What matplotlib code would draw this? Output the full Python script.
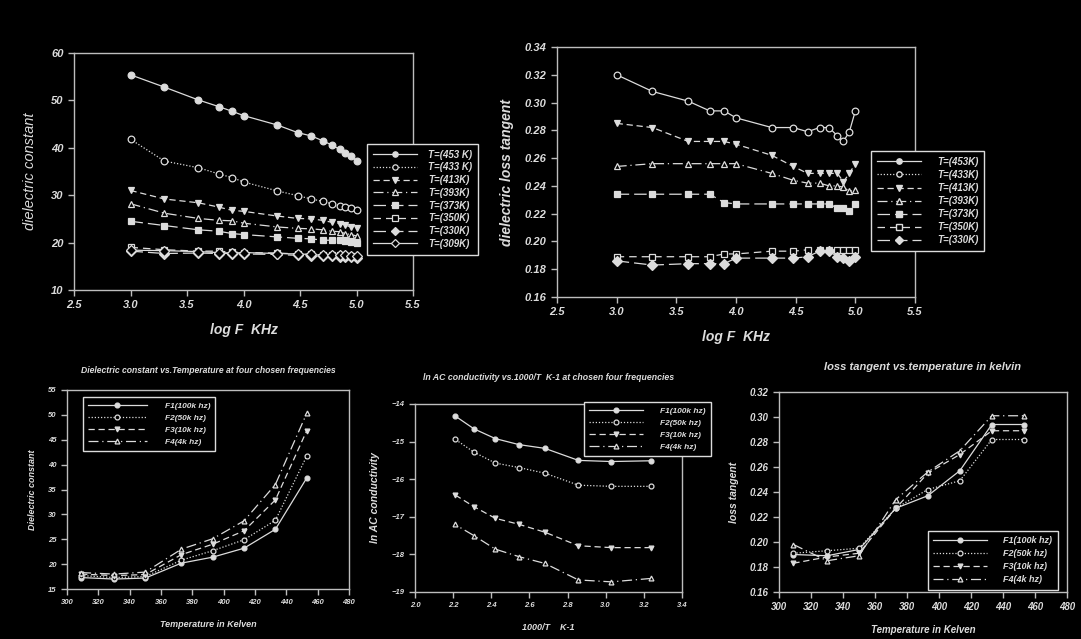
import numpy as np
import matplotlib
matplotlib.use("Agg")
import matplotlib.pyplot as plt
from matplotlib.lines import Line2D

# ---- 数据 ----
# 上方两图: log F (F 单位 Hz)
log_f = [3.0, 3.30, 3.60, 3.78, 3.90, 4.0, 4.30, 4.48, 4.60, 4.70, 4.78, 4.85, 4.90, 4.95, 5.0]

# 介电常数 vs log F
eps_453 = [55.4, 52.8, 50.1, 48.7, 47.7, 46.8, 44.8, 43.2, 42.5, 41.5, 40.6, 39.7, 39.0, 38.2, 37.3]
eps_433 = [41.8, 37.2, 35.8, 34.5, 33.7, 32.8, 30.9, 29.9, 29.2, 28.7, 28.2, 27.8, 27.5, 27.2, 26.9]
eps_413 = [31.0, 29.2, 28.4, 27.5, 26.8, 26.6, 25.6, 25.1, 25.0, 24.7, 24.3, 24.0, 23.7, 23.3, 23.0]
eps_393 = [28.2, 26.2, 25.1, 24.7, 24.6, 24.1, 23.3, 23.0, 22.9, 22.7, 22.4, 22.3, 21.9, 21.7, 21.4]
eps_373 = [24.5, 23.6, 22.7, 22.4, 21.9, 21.7, 21.2, 20.9, 20.8, 20.5, 20.5, 20.5, 20.3, 20.2, 20.0]
eps_350 = [19.0, 18.5, 18.2, 18.2, 18.0, 17.9, 17.8, 17.6, 17.5, 17.4, 17.4, 17.3, 17.2, 17.1, 17.0]
eps_330 = [18.2, 17.7, 17.8, 17.7, 17.7, 17.6, 17.5, 17.3, 17.2, 17.1, 17.1, 17.0, 16.9, 16.9, 16.8]
eps_309 = [18.4, 18.3, 18.1, 17.9, 17.8, 17.9, 17.7, 17.6, 17.5, 17.3, 17.3, 17.3, 17.3, 17.2, 17.1]
eps_series = [eps_453, eps_433, eps_413, eps_393, eps_373, eps_350, eps_330, eps_309]
eps_labels = ["T=(453 K)", "T=(433 K)", "T=(413K)", "T=(393K)", "T=(373K)",
              "T=(350K)", "T=(330K)", "T=(309K)"]

# 损耗角正切 vs log F
tan_453 = [0.320, 0.308, 0.301, 0.294, 0.294, 0.289, 0.282, 0.282, 0.279, 0.282, 0.282, 0.276, 0.272, 0.279, 0.294]
tan_413 = [0.285, 0.282, 0.272, 0.272, 0.272, 0.270, 0.262, 0.254, 0.249, 0.249, 0.249, 0.249, 0.243, 0.249, 0.256]
tan_393 = [0.254, 0.256, 0.256, 0.256, 0.256, 0.256, 0.249, 0.244, 0.242, 0.242, 0.240, 0.240, 0.239, 0.236, 0.237]
tan_373 = [0.234, 0.234, 0.234, 0.234, 0.228, 0.227, 0.227, 0.227, 0.227, 0.227, 0.227, 0.224, 0.224, 0.222, 0.227]
tan_350 = [0.189, 0.189, 0.189, 0.189, 0.191, 0.191, 0.193, 0.193, 0.194, 0.194, 0.194, 0.194, 0.194, 0.194, 0.194]
tan_330 = [0.186, 0.183, 0.184, 0.184, 0.184, 0.188, 0.188, 0.188, 0.189, 0.193, 0.193, 0.189, 0.188, 0.186, 0.189]
tan_labels = ["T=(453K)", "T=(433K)", "T=(413K)", "T=(393K)", "T=(373K)", "T=(350K)", "T=(330K)"]

# 下方三图: 温度
temp_k = [309, 330, 350, 373, 393, 413, 433, 453]
inv_t = [3.236, 3.030, 2.857, 2.681, 2.545, 2.421, 2.309, 2.208]
freq_labels = ["F1(100k hz)", "F2(50k hz)", "F3(10k hz)", "F4(4k hz)"]

eps_t_f1 = [17.3, 17.0, 17.2, 20.2, 21.4, 23.2, 27.0, 37.3]
eps_t_f2 = [17.7, 17.3, 17.5, 20.8, 22.7, 24.9, 28.8, 41.7]
eps_t_f3 = [18.0, 17.7, 17.9, 21.9, 24.0, 26.7, 32.9, 46.8]
eps_t_f4 = [18.3, 18.0, 18.4, 23.0, 25.1, 28.7, 36.0, 50.3]

lnsig_f1 = [-15.51, -15.53, -15.50, -15.18, -15.08, -14.92, -14.66, -14.31]
lnsig_f2 = [-16.19, -16.19, -16.16, -15.84, -15.69, -15.57, -15.28, -14.93]
lnsig_f3 = [-17.82, -17.82, -17.77, -17.41, -17.20, -17.04, -16.73, -16.41]
lnsig_f4 = [-18.64, -18.73, -18.68, -18.24, -18.06, -17.86, -17.50, -17.20]

tan_t_f1 = [0.190, 0.189, 0.194, 0.227, 0.237, 0.257, 0.294, 0.294]
tan_t_f2 = [0.191, 0.193, 0.195, 0.227, 0.242, 0.249, 0.282, 0.282]
tan_t_f3 = [0.183, 0.188, 0.191, 0.227, 0.255, 0.270, 0.289, 0.289]
tan_t_f4 = [0.198, 0.185, 0.189, 0.234, 0.256, 0.273, 0.301, 0.301]

# ---- 样式 ----
FG = "#dcdcdc"
SPINE = "#bdbdbd"
plt.rcParams["font.family"] = ["Liberation Sans", "DejaVu Sans"]

temp_styles = [
    dict(ls="-", marker="o", mfc=FG),
    dict(ls=(0, (1, 1.5)), marker="o", mfc="black"),
    dict(ls=(0, (5, 3)), marker="v", mfc=FG),
    dict(ls=(0, (8, 3, 1, 3)), marker="^", mfc="black"),
    dict(ls=(0, (10, 4)), marker="s", mfc=FG),
    dict(ls=(0, (6, 4)), marker="s", mfc="black"),
    dict(ls=(0, (10, 4)), marker="D", mfc=FG),
    dict(ls="-", marker="D", mfc="black"),
]
freq_styles = temp_styles[:4]


def style_axes(ax, tick_size):
    ax.set_facecolor("black")
    for s in ax.spines.values():
        s.set_color(SPINE)
        s.set_linewidth(1.0)
    ax.tick_params(direction="out", length=4, width=1, color=SPINE,
                   labelcolor=FG, labelsize=tick_size, top=False, right=False)
    for lab in ax.get_xticklabels() + ax.get_yticklabels():
        lab.set_fontweight("bold")
        lab.set_fontstyle("italic")


def draw(ax, x, y, st, ms, lw=0.9, label=None):
    ax.plot(x, y, color=FG, lw=lw, ls=st["ls"], marker=st["marker"],
            ms=ms, mfc=st["mfc"], mec=FG, mew=0.9, label=label)


def make_legend(ax, handles, labels, anchor, fs, hlen, spacing, pad, msc=1.0):
    leg = ax.legend(handles, labels, loc="upper left", bbox_to_anchor=anchor,
                    bbox_transform=fig.transFigure,
                    handlelength=hlen, handletextpad=pad, labelspacing=spacing,
                    borderpad=0.6, fancybox=False, framealpha=1, markerscale=msc,
                    prop=dict(weight="bold", style="italic", size=fs))
    leg.get_frame().set_facecolor("black")
    leg.get_frame().set_edgecolor(FG)
    leg.get_frame().set_linewidth(1.0)
    for t in leg.get_texts():
        t.set_color(FG)
    leg.set_zorder(5)
    return leg


fig = plt.figure(figsize=(10.81, 6.39), dpi=100, facecolor="black")
W, H = 1081, 639


def add_ax(l, t, r, b):
    return fig.add_axes([l / W, 1 - b / H, (r - l) / W, (b - t) / H])


# ---- 图1: 介电常数 vs log F ----
ax1 = add_ax(74, 53, 413, 290)
for ys, st, lab in zip(eps_series, temp_styles, eps_labels):
    draw(ax1, log_f, ys, st, 4.8, label=lab)
ax1.set_xlim(2.5, 5.5)
ax1.set_ylim(10, 60)
ax1.set_xticks(np.arange(2.5, 5.51, 0.5))
ax1.set_yticks(np.arange(10, 61, 10))
ax1.xaxis.set_major_formatter(matplotlib.ticker.FormatStrFormatter("%.1f"))
style_axes(ax1, 8)
ax1.set_xlabel("log F  KHz", color=FG, fontsize=10, fontweight="bold", style="italic", labelpad=9)
ax1.set_ylabel("dielectric constant", color=FG, fontsize=10.5, style="italic", labelpad=10)
h1, l1 = ax1.get_legend_handles_labels()
make_legend(ax1, h1, l1, (362 / W, 1 - 139 / H), 7, 4.6, 0.28, 1.1, 0.8)

# ---- 图2: 损耗角正切 vs log F ----
ax2 = add_ax(557, 47, 915, 297)
tan_plot = [(tan_453, dict(temp_styles[0], mfc="black")), (tan_413, temp_styles[2]),
            (tan_393, temp_styles[3]), (tan_373, temp_styles[4]),
            (tan_350, temp_styles[5]), (tan_330, temp_styles[6])]
for ys, st in tan_plot:
    draw(ax2, log_f, ys, st, 4.8)
ax2.set_xlim(2.5, 5.5)
ax2.set_ylim(0.16, 0.34)
ax2.set_xticks(np.arange(2.5, 5.51, 0.5))
ax2.set_yticks(np.arange(0.16, 0.341, 0.02))
ax2.xaxis.set_major_formatter(matplotlib.ticker.FormatStrFormatter("%.1f"))
ax2.yaxis.set_major_formatter(matplotlib.ticker.FormatStrFormatter("%.2f"))
style_axes(ax2, 8)
ax2.set_xlabel("log F  KHz", color=FG, fontsize=10, fontweight="bold", style="italic", labelpad=9)
ax2.set_ylabel("dielectric loss tangent", color=FG, fontsize=10, fontweight="bold",
               style="italic", labelpad=8)
h2 = [Line2D([], [], color=FG, lw=0.9, ls=st["ls"], marker=st["marker"], ms=4.8,
             mfc=st["mfc"], mec=FG) for st in temp_styles[:7]]
make_legend(ax2, h2, tan_labels, (866 / W, 1 - 146 / H), 7, 4.6, 0.32, 1.6, 0.8)

# ---- 图3: 介电常数 vs 温度 ----
ax3 = add_ax(67, 390, 349, 589)
for ys, st, lab in zip([eps_t_f1, eps_t_f2, eps_t_f3, eps_t_f4], freq_styles, freq_labels):
    draw(ax3, temp_k, ys, st, 3.5, label=lab)
ax3.set_xlim(300, 480)
ax3.set_ylim(15, 55)
ax3.set_xticks(np.arange(300, 481, 20))
ax3.set_yticks(np.arange(15, 56, 5))
style_axes(ax3, 5.5)
ax3.set_title("Dielectric constant vs.Temperature at four chosen frequencies",
              color=FG, fontsize=6.2, fontweight="bold", style="italic", pad=12)
ax3.set_xlabel("Temperature in Kelven", color=FG, fontsize=6.5, fontweight="bold",
               style="italic", labelpad=10)
ax3.set_ylabel("Dielectric constant", color=FG, fontsize=6.5, fontweight="bold",
               style="italic", labelpad=8)
h3, l3 = ax3.get_legend_handles_labels()
make_legend(ax3, h3, l3, (79 / W, 1 - 393 / H), 6, 7.0, 0.5, 2.2)

# ---- 图4: ln 交流电导率 vs 1000/T ----
ax4 = add_ax(415, 404, 682, 592)
for ys, st, lab in zip([lnsig_f1, lnsig_f2, lnsig_f3, lnsig_f4], freq_styles, freq_labels):
    draw(ax4, inv_t, ys, st, 3.5, label=lab)
ax4.set_xlim(2.0, 3.4)
ax4.set_ylim(-19, -14)
ax4.set_xticks(np.arange(2.0, 3.41, 0.2))
ax4.set_yticks(np.arange(-19, -13.9, 1))
ax4.xaxis.set_major_formatter(matplotlib.ticker.FormatStrFormatter("%.1f"))
style_axes(ax4, 5.5)
ax4.set_title("ln AC conductivity vs.1000/T  K-1 at chosen four frequencies",
              color=FG, fontsize=6.3, fontweight="bold", style="italic", pad=17)
ax4.set_xlabel("1000/T    K-1", color=FG, fontsize=6.5, fontweight="bold",
               style="italic", labelpad=10)
ax4.set_ylabel("ln AC conductivity", color=FG, fontsize=7.5, fontweight="bold",
               style="italic", labelpad=8)
h4, l4 = ax4.get_legend_handles_labels()
make_legend(ax4, h4, l4, (580 / W, 1 - 398 / H), 6, 6.5, 0.5, 2.0)

# ---- 图5: 损耗角正切 vs 温度 ----
ax5 = add_ax(779, 392, 1067, 592)
for ys, st, lab in zip([tan_t_f1, tan_t_f2, tan_t_f3, tan_t_f4], freq_styles, freq_labels):
    draw(ax5, temp_k, ys, st, 3.5, label=lab)
ax5.set_xlim(300, 480)
ax5.set_ylim(0.16, 0.32)
ax5.set_xticks(np.arange(300, 481, 20))
ax5.set_yticks(np.arange(0.16, 0.321, 0.02))
ax5.yaxis.set_major_formatter(matplotlib.ticker.FormatStrFormatter("%.2f"))
style_axes(ax5, 7)
ax5.set_title("loss tangent vs.temperature in kelvin", color=FG, fontsize=8,
              fontweight="bold", style="italic", pad=16)
ax5.set_xlabel("Temperature in Kelven", color=FG, fontsize=7, fontweight="bold",
               style="italic", labelpad=9)
ax5.set_ylabel("loss tangent", color=FG, fontsize=7.5, fontweight="bold",
               style="italic", labelpad=8)
h5, l5 = ax5.get_legend_handles_labels()
make_legend(ax5, h5, l5, (923 / W, 1 - 526 / H), 6.5, 6.0, 0.45, 1.8)

fig.savefig("out.png", dpi=100, facecolor="black")
